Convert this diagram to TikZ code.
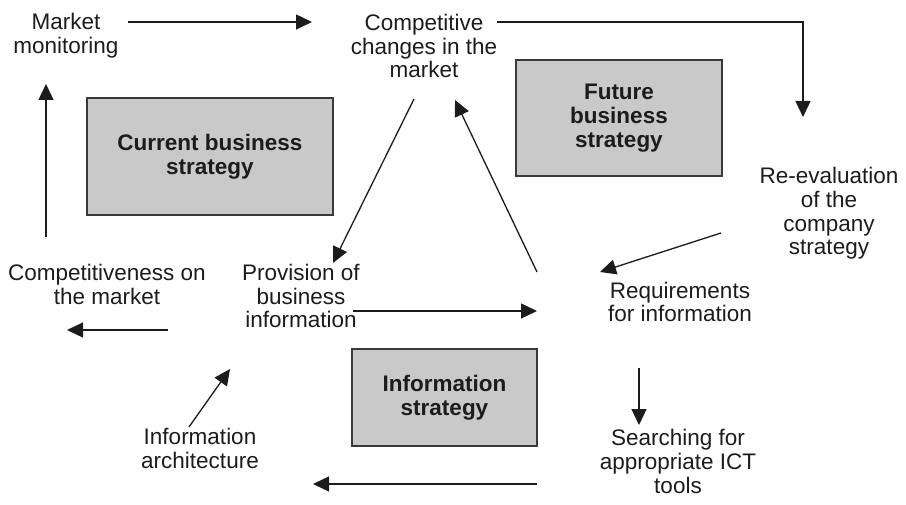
\documentclass[tikz,border=0pt]{standalone}
\usepackage{fontspec}
\setmainfont{Liberation Sans}
\usetikzlibrary{arrows.meta}
\definecolor{ink}{HTML}{1C1C1C}
\definecolor{edge}{HTML}{3A3A3A}
\definecolor{boxgray}{HTML}{C9C9C9}
\begin{document}
\begin{tikzpicture}[x=1pt,y=-1pt,
  lbl/.style={align=center, inner sep=0pt, anchor=base, text=ink,
    font=\fontsize{22.5}{23.8}\selectfont},
  strat/.style={draw=edge, line width=1.4pt, fill=boxgray, align=center,
    inner sep=0pt, text=ink, font=\bfseries\fontsize{22.5}{23.8}\selectfont},
  flow/.style={draw=ink, line width=1.3pt, -{Triangle[length=16pt,width=15pt]}}
]
\useasboundingbox (0,0) rectangle (906,505);

% strategy boxes
\node[strat, minimum width=246pt, minimum height=117pt] (cbs) at (210,156.5) {Current business\\strategy};
\node[strat, minimum width=206pt, minimum height=116pt] (fbs) at (619,118) {Future\\business\\strategy};
\node[strat, minimum width=185pt, minimum height=97pt] (ist) at (444.5,397.5) {Information\\strategy};

% activity labels (placed by the baseline of their last line)
\node[lbl] (mm) at (66,53.5) {Market\\monitoring};
\node[lbl] (ccm) at (424,78) {Competitive\\changes in the\\market};
\node[lbl] (reval) at (829,255) {Re-evaluation\\of the\\company\\strategy};
\node[lbl] (req) at (680,322) {Requirements\\for information};
\node[lbl] (ict) at (678,493) {Searching for\\appropriate ICT\\tools};
\node[lbl] (ia) at (200,468) {Information\\architecture};
\node[lbl] (pbi) at (301,328) {Provision of\\business\\information};
\node[lbl] (cm) at (107,304.5) {Competitiveness on\\the market};

% connector end points
\coordinate (mm-out) at (128,22);   \coordinate (ccm-in) at (312,22);
\coordinate (ccm-out) at (497,22);  \coordinate (reval-in) at (803,117);
\coordinate (reval-out) at (721,233); \coordinate (req-in) at (600,272);
\coordinate (req-out) at (639,368); \coordinate (ict-in) at (639,425);
\coordinate (ict-out) at (537,484); \coordinate (ia-in) at (313,484);
\coordinate (ia-out) at (189,427);  \coordinate (pbi-in) at (230,369);
\coordinate (pbi-out) at (353,311); \coordinate (req-in2) at (537,311);
\coordinate (req-out2) at (537,272); \coordinate (ccm-in2) at (455,100);
\coordinate (ccm-out2) at (414,99); \coordinate (pbi-in2) at (333,263);
\coordinate (pbi-out2) at (168,330); \coordinate (cm-in) at (67,330);
\coordinate (cm-out) at (46,237);   \coordinate (mm-in) at (46,84);

% cycle of arrows
\draw[flow] (mm-out) -- (ccm-in);
\draw[flow] (ccm-out) -| (reval-in);
\draw[flow] (reval-out) -- (req-in);
\draw[flow] (req-out) -- (ict-in);
\draw[flow] (ict-out) -- (ia-in);
\draw[flow] (ia-out) -- (pbi-in);
\draw[flow] (pbi-out) -- (req-in2);
\draw[flow] (req-out2) -- (ccm-in2);
\draw[flow] (ccm-out2) -- (pbi-in2);
\draw[flow] (pbi-out2) -- (cm-in);
\draw[flow] (cm-out) -- (mm-in);
\end{tikzpicture}
\end{document}
